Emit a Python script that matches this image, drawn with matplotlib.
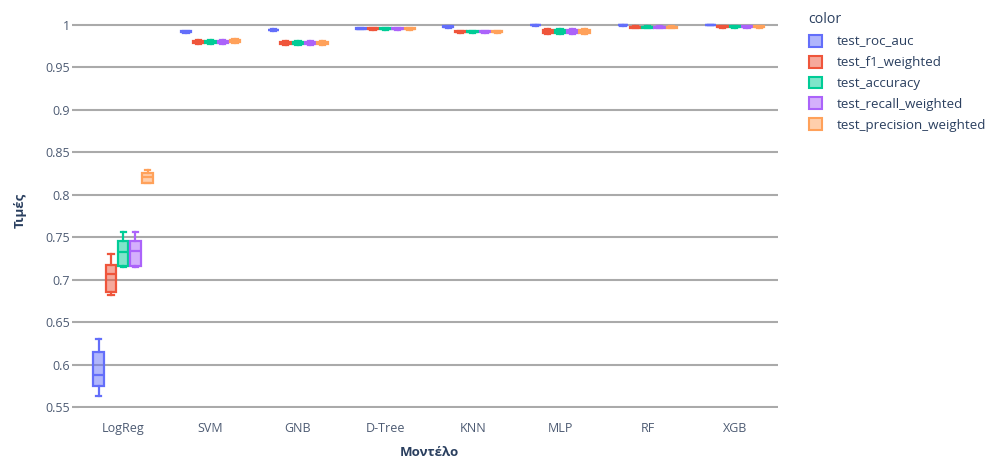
import matplotlib
matplotlib.use("Agg")
import matplotlib.pyplot as plt
from matplotlib.patches import Patch

plt.rcParams['font.family'] = ['Open Sans', 'DejaVu Sans']

models = ["LogReg", "SVM", "GNB", "D-Tree", "KNN", "MLP", "RF", "XGB"]
metrics = ["test_roc_auc", "test_f1_weighted", "test_accuracy",
           "test_recall_weighted", "test_precision_weighted"]
colors = ["#636efa", "#EF553B", "#00cc96", "#ab63fa", "#FFA15A"]

# five-number summaries per model: (whisker low, q1, median, q3, whisker high)
roc_auc = [
    (0.5637, 0.5746, 0.5884, 0.6150, 0.6307),
    (0.9906, 0.9912, 0.9918, 0.9923, 0.9928),
    (0.9927, 0.9933, 0.9938, 0.9942, 0.9946),
    (0.9944, 0.9949, 0.9953, 0.9957, 0.9961),
    (0.9966, 0.9972, 0.9977, 0.9981, 0.9985),
    (0.9988, 0.9992, 0.9996, 0.9998, 1.0000),
    (0.9984, 0.9992, 0.9998, 1.0000, 1.0000),
    (0.9994, 0.9998, 1.0000, 1.0000, 1.0000),
]
f1_weighted = [
    (0.6823, 0.6854, 0.7062, 0.7168, 0.7305),
    (0.9772, 0.9788, 0.9800, 0.9810, 0.9822),
    (0.9757, 0.9773, 0.9785, 0.9795, 0.9807),
    (0.9941, 0.9947, 0.9953, 0.9958, 0.9963),
    (0.9906, 0.9912, 0.9918, 0.9923, 0.9929),
    (0.9890, 0.9903, 0.9920, 0.9934, 0.9944),
    (0.9958, 0.9965, 0.9970, 0.9975, 0.9980),
    (0.9965, 0.9971, 0.9976, 0.9981, 0.9985),
]
accuracy = [
    (0.7150, 0.7160, 0.7325, 0.7450, 0.7560),
    (0.9774, 0.9790, 0.9801, 0.9811, 0.9823),
    (0.9759, 0.9775, 0.9786, 0.9796, 0.9808),
    (0.9942, 0.9948, 0.9953, 0.9958, 0.9963),
    (0.9907, 0.9913, 0.9918, 0.9923, 0.9929),
    (0.9892, 0.9905, 0.9921, 0.9935, 0.9945),
    (0.9959, 0.9965, 0.9970, 0.9975, 0.9980),
    (0.9966, 0.9971, 0.9977, 0.9981, 0.9985),
]
recall_weighted = [
    (0.7150, 0.7160, 0.7340, 0.7450, 0.7560),
    (0.9774, 0.9790, 0.9801, 0.9811, 0.9823),
    (0.9759, 0.9775, 0.9786, 0.9796, 0.9808),
    (0.9942, 0.9948, 0.9953, 0.9958, 0.9963),
    (0.9907, 0.9913, 0.9918, 0.9923, 0.9929),
    (0.9892, 0.9905, 0.9921, 0.9935, 0.9945),
    (0.9959, 0.9965, 0.9970, 0.9975, 0.9980),
    (0.9966, 0.9971, 0.9977, 0.9981, 0.9985),
]
precision_weighted = [
    (0.8135, 0.8140, 0.8206, 0.8257, 0.8296),
    (0.9781, 0.9796, 0.9807, 0.9816, 0.9827),
    (0.9762, 0.9778, 0.9789, 0.9799, 0.9810),
    (0.9942, 0.9948, 0.9953, 0.9958, 0.9963),
    (0.9907, 0.9913, 0.9918, 0.9923, 0.9929),
    (0.9892, 0.9905, 0.9921, 0.9935, 0.9945),
    (0.9960, 0.9966, 0.9971, 0.9976, 0.9981),
    (0.9966, 0.9971, 0.9977, 0.9981, 0.9985),
]
series = [roc_auc, f1_weighted, accuracy, recall_weighted, precision_weighted]

ytick_values = [0.55, 0.6, 0.65, 0.7, 0.75, 0.8, 0.85, 0.9, 0.95, 1.0]
ytick_labels = ["0.55", "0.6", "0.65", "0.7", "0.75", "0.8", "0.85", "0.9", "0.95", "1"]

fig = plt.figure(figsize=(9.96, 4.59), dpi=100)
ax = fig.add_axes([0.0798, 0.1111, 0.7018, 0.862])

tick_color = "#4d5b73"
title_color = "#2a3f5f"
grid_color = "#aaaaaa"

step = 0.14
box_w = 0.12
lw = 1.6
n = len(metrics)
for j, (vals, col) in enumerate(zip(series, colors)):
    stats = []
    positions = []
    for i, v in enumerate(vals):
        lo, q1, med, q3, hi = v
        stats.append(dict(whislo=lo, q1=q1, med=med, q3=q3, whishi=hi, fliers=[]))
        positions.append(i + (j - (n - 1) / 2) * step)
    ax.bxp(stats, positions=positions, widths=box_w, capwidths=box_w * 0.5,
           patch_artist=True, showfliers=False, manage_ticks=False,
           boxprops=dict(facecolor=col + "80", edgecolor=col, linewidth=lw),
           medianprops=dict(color=col, linewidth=lw),
           whiskerprops=dict(color=col, linewidth=lw),
           capprops=dict(color=col, linewidth=lw), zorder=3)

ax.set_xlim(-0.5, len(models) - 0.5)
ax.set_ylim(0.549, 1.0145)
ax.set_xticks(range(len(models)))
ax.set_xticklabels(models)
ax.set_yticks(ytick_values)
ax.set_yticklabels(ytick_labels)
ax.tick_params(axis="x", length=0, pad=10, labelsize=9, labelcolor=tick_color)
ax.tick_params(axis="y", length=5, width=1.5, color=grid_color, pad=2,
               labelsize=9, labelcolor=tick_color)
ax.yaxis.grid(True, color=grid_color, linewidth=1.5, zorder=0)
ax.set_axisbelow(True)
for s in ax.spines.values():
    s.set_visible(False)

ax.set_xlabel("Μοντέλο", fontsize=9.5, fontweight="bold", color=title_color, labelpad=8)
ax.set_ylabel("Τιμές", fontsize=9.5, fontweight="bold", color=title_color, labelpad=13)

handles = [Patch(facecolor=c + "80", edgecolor=c, linewidth=1.5) for c in colors]
leg = ax.legend(handles, metrics, title="color", loc="upper left",
                bbox_to_anchor=(1.026, 1.03), frameon=False, fontsize=9.6,
                title_fontsize=10.2, handlelength=1.0, handleheight=1.0,
                handletextpad=1.1, labelspacing=0.55, alignment="left")
for t in leg.get_texts():
    t.set_color(title_color)
leg.get_title().set_color(title_color)

fig.savefig("out.png", dpi=100)
